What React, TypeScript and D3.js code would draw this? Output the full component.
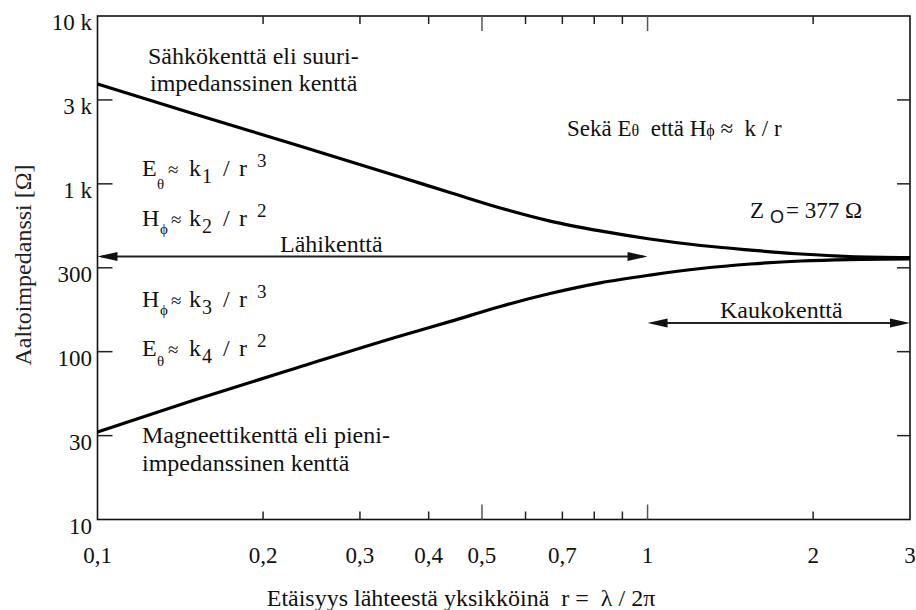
import React from "react";
import * as d3 from "d3";

const W = 916;
const H = 610;
const plot = { left: 97.5, right: 910, top: 16, bottom: 519.5 };

// Distance r in units of λ/2π and the wave impedance of each field type
const electricR = [0.1, 0.15, 0.23, 0.355, 0.44, 0.54, 0.665, 0.82, 1.01, 1.25, 1.54, 1.9, 2.33, 3];
const electricZ = [3934, 2608, 1704, 1098, 882, 718, 600, 524, 469, 429, 403, 382, 369, 364];
const magneticR = [0.1, 0.15, 0.23, 0.355, 0.44, 0.54, 0.665, 0.82, 1.01, 1.25, 1.54, 1.9, 2.33, 3];
const magneticZ = [33.2, 51.5, 80, 124, 152, 186, 222, 257, 286, 313, 333, 347, 354, 357];

const xLabelValues = [0.1, 0.2, 0.3, 0.4, 0.5, 0.7, 1, 2, 3];
const xLabelTexts = ["0,1", "0,2", "0,3", "0,4", "0,5", "0,7", "1", "2", "3"];
const xShortTicks = [0.2, 0.3, 0.4, 0.6, 0.7, 0.8, 0.9, 2];
const xLongTicks = [0.5, 1];
const yTickValues = [10, 31.6, 100, 316, 1000, 3162, 10000];
const yTickLabels = ["10", "30", "100", "300", "1 k", "3 k", "10 k"];

// Near / far field range arrows: [from r, to r, level in ohms]
const nearField = [0.1, 1.0, 369];
const farField = [1.0, 3, 148];

const serif = "'Liberation Serif', 'Times New Roman', serif";
const ink = "#111";
const pre = { whiteSpace: "pre" as const };

function Arrow({ x1, x2, y }: { x1: number; x2: number; y: number }) {
  const len = 20;
  const hw = 4.5;
  return (
    <g>
      <line x1={x1 + 4} x2={x2 - 4} y1={y} y2={y} stroke="#222" strokeWidth={2} />
      <path d={`M${x1},${y} L${x1 + len},${y - hw} L${x1 + len},${y + hw} Z`} fill="#111" />
      <path d={`M${x2},${y} L${x2 - len},${y - hw} L${x2 - len},${y + hw} Z`} fill="#111" />
    </g>
  );
}

// Field law such as "E_θ ≈ k_1 / r^3"
function Formula({
  x,
  y,
  main,
  sub,
  subDy,
  k,
  pow,
}: {
  x: number;
  y: number;
  main: string;
  sub: string;
  subDy: number;
  k: string;
  pow: string;
}) {
  const s = main === "H" ? 18 : 15;
  return (
    <text y={y} fontFamily={serif} fontSize={24} fill={ink}>
      <tspan x={x}>{main}</tspan>
      <tspan x={x + s} dy={subDy} fontSize={15}>{sub}</tspan>
      <tspan x={x + s + 11} dy={-subDy} fontSize={19}>≈</tspan>
      <tspan x={x + 47}>k</tspan>
      <tspan x={x + 60} dy={7} fontSize={20}>{k}</tspan>
      <tspan x={x + 81} dy={-7}>/</tspan>
      <tspan x={x + 97}>r</tspan>
      <tspan x={x + 115} dy={-9} fontSize={19}>{pow}</tspan>
    </text>
  );
}

export default function App() {
  const x = d3.scaleLog().domain([0.1, 3]).range([plot.left, plot.right]);
  const y = d3.scaleLog().domain([10, 10000]).range([plot.bottom, plot.top]);

  const line = d3
    .line<[number, number]>()
    .x((d) => x(d[0]))
    .y((d) => y(d[1]))
    .curve(d3.curveMonotoneX);

  const electric = electricR.map((r, i) => [r, electricZ[i]] as [number, number]);
  const magnetic = magneticR.map((r, i) => [r, magneticZ[i]] as [number, number]);

  return (
    <svg
      width={W}
      height={H}
      viewBox={`0 0 ${W} ${H}`}
      style={{ position: "absolute", left: 0, top: 0, background: "#fff" }}
    >
      <rect width={W} height={H} fill="#fff" />

      {/* frame */}
      <rect
        x={plot.left}
        y={plot.top}
        width={plot.right - plot.left}
        height={plot.bottom - plot.top}
        fill="none"
        stroke={ink}
        strokeWidth={1.6}
      />

      {/* x ticks, bottom and top, pointing inward */}
      {xShortTicks.map((t) => (
        <g key={`xs${t}`} stroke="#222" strokeWidth={1.5}>
          <line x1={x(t)} x2={x(t)} y1={plot.bottom} y2={plot.bottom - 8} />
          <line x1={x(t)} x2={x(t)} y1={plot.top} y2={plot.top + 8} />
        </g>
      ))}
      {xLongTicks.map((t) => (
        <g key={`xl${t}`} stroke="#555" strokeWidth={1.5}>
          <line x1={x(t)} x2={x(t)} y1={plot.bottom} y2={plot.bottom - 15} />
          <line x1={x(t)} x2={x(t)} y1={plot.top} y2={plot.top + 15} />
        </g>
      ))}

      {/* y ticks, left and right */}
      {yTickValues.slice(1, -1).map((t) => (
        <g key={`y${t}`} stroke="#222" strokeWidth={1.5}>
          <line x1={plot.left} x2={plot.left + 15} y1={y(t)} y2={y(t)} />
          <line x1={plot.right} x2={plot.right - 13} y1={y(t)} y2={y(t)} />
        </g>
      ))}

      {/* tick labels */}
      {yTickValues.map((t, i) => (
        <text
          key={`yl${t}`}
          x={92}
          y={y(t) + 14}
          textAnchor="end"
          fontFamily={serif}
          fontSize={23}
          fill={ink}
        >
          {yTickLabels[i]}
        </text>
      ))}
      {xLabelValues.map((t, i) => (
        <text
          key={`xlb${t}`}
          x={x(t)}
          y={563}
          textAnchor="middle"
          fontFamily={serif}
          fontSize={23}
          fill={ink}
        >
          {xLabelTexts[i]}
        </text>
      ))}

      {/* axis titles */}
      <text
        transform={`translate(31, 265) rotate(-90)`}
        textAnchor="middle"
        fontFamily={serif}
        fontSize={24}
        fill="#222"
      >
        Aaltoimpedanssi [Ω]
      </text>
      <text x={461} y={606} textAnchor="middle" fontFamily={serif} fontSize={24} fill={ink} style={pre}>
        {"Etäisyys lähteestä yksikköinä  r =  λ / 2π"}
      </text>

      {/* impedance curves */}
      <path d={line(electric) ?? ""} fill="none" stroke="#000" strokeWidth={3.2} />
      <path d={line(magnetic) ?? ""} fill="none" stroke="#000" strokeWidth={3.2} />

      {/* field range arrows */}
      <Arrow x1={x(nearField[0])} x2={x(nearField[1])} y={y(nearField[2])} />
      <Arrow x1={x(farField[0])} x2={x(farField[1])} y={y(farField[2])} />
      <text x={280} y={252} fontFamily={serif} fontSize={24} fill={ink}>
        Lähikenttä
      </text>
      <text x={720} y={318} fontFamily={serif} fontSize={24} fill={ink}>
        Kaukokenttä
      </text>

      {/* annotations */}
      <text fontFamily={serif} fontSize={24} fill={ink}>
        <tspan x={148} y={64}>Sähkökenttä eli suuri-</tspan>
        <tspan x={150} y={91}>impedanssinen kenttä</tspan>
      </text>
      <text fontFamily={serif} fontSize={24} fill={ink}>
        <tspan x={142} y={443}>Magneettikenttä eli pieni-</tspan>
        <tspan x={142} y={471}>impedanssinen kenttä</tspan>
      </text>

      <Formula x={142} y={176} main="E" sub="θ" subDy={13} k="1" pow="3" />
      <Formula x={142} y={226} main="H" sub="ϕ" subDy={8} k="2" pow="2" />
      <Formula x={142} y={307} main="H" sub="ϕ" subDy={8} k="3" pow="3" />
      <Formula x={142} y={356} main="E" sub="θ" subDy={10} k="4" pow="2" />

      <text x={567} y={136} fontFamily={serif} fontSize={23} fill={ink} style={pre}>
        {"Sekä E"}
        <tspan fontSize={16}>θ</tspan>
        {"  että H"}
        <tspan fontSize={16}>ϕ</tspan>
        {" ≈  k / r"}
      </text>

      <text x={750} y={218} fontFamily={serif} fontSize={23} fill={ink}>
        Z
        <tspan dx={6} dy={5} fontFamily="'Liberation Sans', Arial, sans-serif" fontSize={18}>
          O
        </tspan>
        <tspan dy={-5} dx={2}>= 377 Ω</tspan>
      </text>
    </svg>
  );
}
